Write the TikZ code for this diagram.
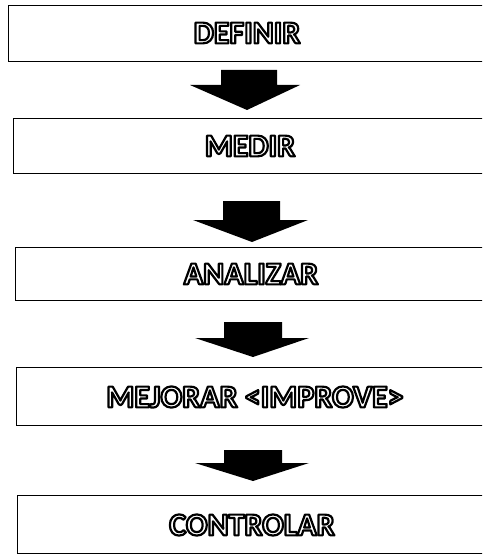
\documentclass[tikz,border=0pt]{standalone}
\usepackage{fontspec}
\setmainfont{Carlito}
\tikzset{
  stage/.style={draw=black, line width=1.4pt, fill=white, anchor=north west,
    inner sep=0pt},
  label/.style={inner sep=0pt, font=\bfseries\fontsize{32}{32}\selectfont},
  blockfill/.style={fill=black},
}
% outlined lettering: white fill, black stroke (text render mode 2)
\newcommand\rimtext[1]{%
  \special{pdf:literal direct q 2 Tr 2.2 w 0 0 0 RG 1 1 1 rg 1 j}%
  #1%
  \special{pdf:literal direct Q}}
% block arrow: shaft left/right, shaft top, head left/right, head base, tip y, tip x
\newcommand\blockarrow[8]{%
  \fill[blockfill] (#1,#3) -- (#2,#3) -- (#2,#6) -- (#5,#6) -- (#8,#7)
    -- (#4,#6) -- (#1,#6) -- cycle;}
\begin{document}
\begin{tikzpicture}[x=1pt,y=-1pt]
  \useasboundingbox (0,0) rectangle (482,556);
  \begin{scope}
    \clip (0,0) rectangle (482,556);
    \node[stage, minimum width=480pt, minimum height=56pt] (b1) at (8,5) {};
    \node[stage, minimum width=475pt, minimum height=55pt] (b2) at (13,118) {};
    \node[stage, minimum width=473pt, minimum height=53pt] (b3) at (15,247) {};
    \node[stage, minimum width=472pt, minimum height=58pt] (b4) at (16,367) {};
    \node[stage, minimum width=471pt, minimum height=58pt] (b5) at (17,495) {};
  \end{scope}
  \node[label] (t1) at (247,33) {\rimtext{DEFINIR}};
  \node[label] (t2) at (250,146) {\rimtext{MEDIR}};
  \node[label] (t3) at (251,274) {\rimtext{ANALIZAR}};
  \node[label] (t4) at (255,397) {\rimtext{MEJORAR <IMPROVE>}};
  \node[label] (t5) at (252,525) {\rimtext{CONTROLAR}};
  \blockarrow{221}{277}{70}{190}{300}{85}{110}{247}
  \blockarrow{223}{280}{201}{193}{308}{220}{242}{252}
  \blockarrow{224}{282}{322}{195}{309}{338}{357}{253}
  \blockarrow{224}{282}{450}{195}{309}{463}{481}{253}
\end{tikzpicture}
\end{document}
